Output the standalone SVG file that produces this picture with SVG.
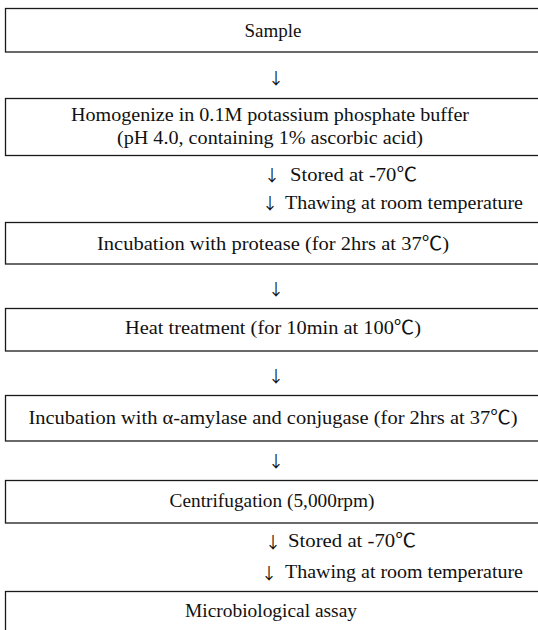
<svg xmlns="http://www.w3.org/2000/svg" width="538" height="630" viewBox="0 0 538 630">
<style>
.box{fill:#fff;stroke:#1a1a1a;stroke-width:1.3}
text{font-family:"Liberation Serif","Noto Sans CJK KR",serif;font-size:19px;fill:#111}
.c{text-anchor:middle}
.a{font-family:"Noto Sans CJK KR","DejaVu Sans",sans-serif;font-size:16px}
</style>
<rect width="538" height="630" fill="#fff"/>
<g id="n1"><rect class="box" x="5.5" y="8.5" width="545" height="43.5"/><text class="c" x="273" y="37">Sample</text></g>
<g id="n2"><rect class="box" x="5.5" y="98.5" width="545" height="57"/><text class="c" x="270" y="121" textLength="398" lengthAdjust="spacingAndGlyphs">Homogenize in 0.1M potassium phosphate buffer</text><text class="c" x="270" y="144" textLength="306" lengthAdjust="spacingAndGlyphs">(pH 4.0, containing 1% ascorbic acid)</text></g>
<g id="n3"><rect class="box" x="5.5" y="222.5" width="545" height="41.5"/><text class="c" x="273" y="250" textLength="352" lengthAdjust="spacingAndGlyphs">Incubation with protease (for 2hrs at 37℃)</text></g>
<g id="n4"><rect class="box" x="5.5" y="308.5" width="545" height="42.5"/><text class="c" x="273" y="334" textLength="296" lengthAdjust="spacingAndGlyphs">Heat treatment (for 10min at 100℃)</text></g>
<g id="n5"><rect class="box" x="5.5" y="395.5" width="545" height="45.5"/><text class="c" x="273" y="424" textLength="489" lengthAdjust="spacingAndGlyphs">Incubation with α-amylase and conjugase (for 2hrs at 37℃)</text></g>
<g id="n6"><rect class="box" x="5.5" y="480.5" width="545" height="42.5"/><text class="c" x="272" y="507" textLength="205" lengthAdjust="spacingAndGlyphs">Centrifugation (5,000rpm)</text></g>
<g id="n7"><rect class="box" x="5.5" y="591.5" width="545" height="60"/><text class="c" x="271" y="617" textLength="172" lengthAdjust="spacingAndGlyphs">Microbiological assay</text></g>
<g id="connectors">
<text class="a c" x="276" y="84">↓</text>
<text class="a c" x="272" y="181">↓</text><text x="290" y="181" textLength="127" lengthAdjust="spacingAndGlyphs">Stored at -70℃</text>
<text class="a c" x="270" y="209">↓</text><text x="285" y="209" textLength="238" lengthAdjust="spacingAndGlyphs">Thawing at room temperature</text>
<text class="a c" x="276" y="295">↓</text>
<text class="a c" x="276" y="382">↓</text>
<text class="a c" x="276" y="467">↓</text>
<text class="a c" x="273" y="548">↓</text><text x="288" y="547" textLength="128" lengthAdjust="spacingAndGlyphs">Stored at -70℃</text>
<text class="a c" x="269" y="579">↓</text><text x="285" y="578" textLength="238" lengthAdjust="spacingAndGlyphs">Thawing at room temperature</text>
</g>
</svg>
